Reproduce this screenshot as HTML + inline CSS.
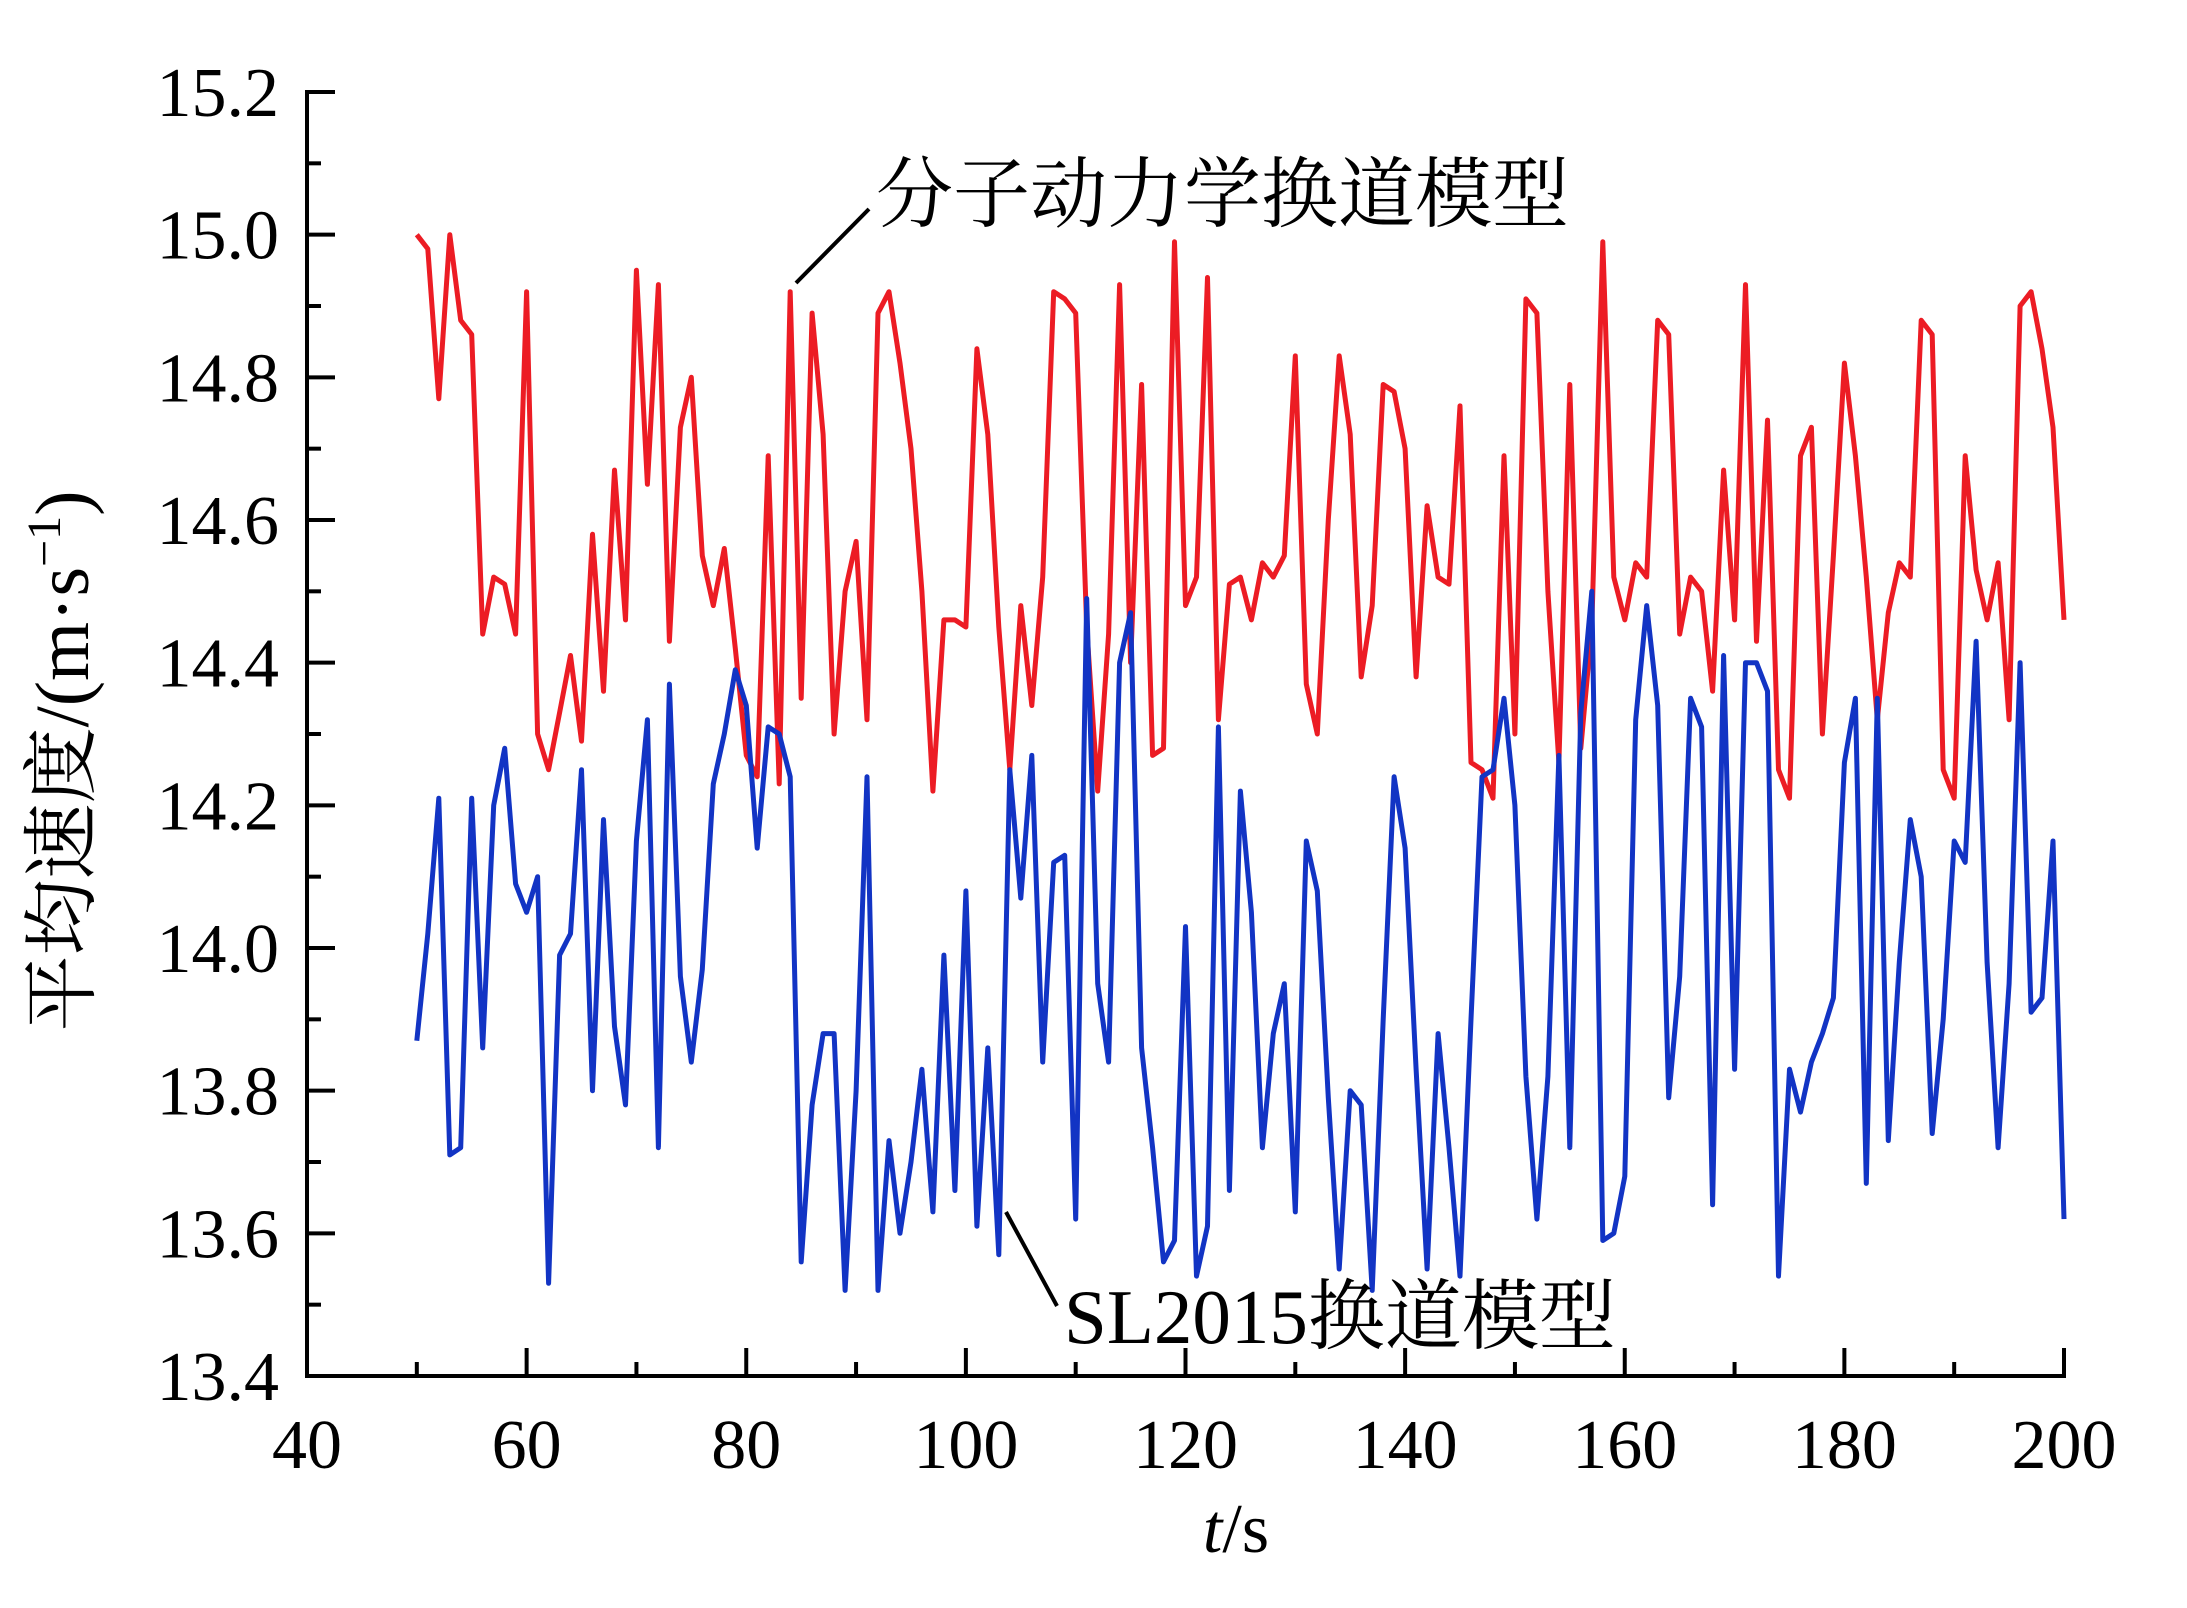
<!DOCTYPE html>
<html><head><meta charset="utf-8"><style>
html,body{margin:0;padding:0;background:#fff}
svg{display:block}
text{font-family:"Liberation Serif","Noto Serif CJK SC",serif;fill:#000}
</style></head><body>
<svg id="chart" width="2187" height="1608" viewBox="0 0 2187 1608" xmlns="http://www.w3.org/2000/svg">
<g id="grid-layer"></g>
<g id="series-layer"></g>
<text transform="translate(88,761) rotate(-90)" text-anchor="middle" font-size="76" font-family="'Liberation Serif','Noto Sans CJK SC',serif">平均速度/(m·s<tspan dy="-28" font-size="48">−1</tspan><tspan dy="28">)</tspan></text>
<text x="1236" y="1552" text-anchor="middle" font-size="70"><tspan font-style="italic">t</tspan>/s</text>
<line x1="796" y1="283" x2="869" y2="209" stroke="#000" stroke-width="4"/>
<text x="876" y="221" font-size="77" font-family="'Noto Serif CJK SC',serif">分子动力学换道模型</text>
<line x1="1006" y1="1212" x2="1057" y2="1306" stroke="#000" stroke-width="4"/>
<text x="1064" y="1343" font-size="77" font-family="'Liberation Serif','Noto Serif CJK SC',serif">SL2015换道模型</text>
</svg>
<script>
const tStart = 50;
const redValues = [15.0,14.98,14.77,15.0,14.88,14.86,14.44,14.52,14.51,14.44,14.92,14.3,14.25,14.33,14.41,14.29,14.58,14.36,14.67,14.46,14.95,14.65,14.93,14.43,14.73,14.8,14.55,14.48,14.56,14.42,14.27,14.24,14.69,14.23,14.92,14.35,14.89,14.72,14.3,14.5,14.57,14.32,14.89,14.92,14.82,14.7,14.5,14.22,14.46,14.46,14.45,14.84,14.72,14.45,14.25,14.48,14.34,14.52,14.92,14.91,14.89,14.45,14.22,14.44,14.93,14.4,14.79,14.27,14.28,14.99,14.48,14.52,14.94,14.32,14.51,14.52,14.46,14.54,14.52,14.55,14.83,14.37,14.3,14.6,14.83,14.72,14.38,14.48,14.79,14.78,14.7,14.38,14.62,14.52,14.51,14.76,14.26,14.25,14.21,14.69,14.3,14.91,14.89,14.5,14.26,14.79,14.28,14.45,14.99,14.52,14.46,14.54,14.52,14.88,14.86,14.44,14.52,14.5,14.36,14.67,14.46,14.93,14.43,14.74,14.25,14.21,14.69,14.73,14.3,14.55,14.82,14.69,14.52,14.32,14.47,14.54,14.52,14.88,14.86,14.25,14.21,14.69,14.53,14.46,14.54,14.32,14.9,14.92,14.84,14.73,14.46];
const blueValues = [13.87,14.02,14.21,13.71,13.72,14.21,13.86,14.2,14.28,14.09,14.05,14.1,13.53,13.99,14.02,14.25,13.8,14.18,13.89,13.78,14.15,14.32,13.72,14.37,13.96,13.84,13.97,14.23,14.3,14.39,14.34,14.14,14.31,14.3,14.24,13.56,13.78,13.88,13.88,13.52,13.8,14.24,13.52,13.73,13.6,13.7,13.83,13.63,13.99,13.66,14.08,13.61,13.86,13.57,14.25,14.07,14.27,13.84,14.12,14.13,13.62,14.49,13.95,13.84,14.4,14.47,13.86,13.72,13.56,13.59,14.03,13.54,13.61,14.31,13.66,14.22,14.05,13.72,13.88,13.95,13.63,14.15,14.08,13.79,13.55,13.8,13.78,13.52,13.9,14.24,14.14,13.83,13.55,13.88,13.72,13.54,13.9,14.24,14.25,14.35,14.2,13.82,13.62,13.82,14.27,13.72,14.33,14.5,13.59,13.6,13.68,14.32,14.48,14.34,13.79,13.96,14.35,14.31,13.64,14.41,13.83,14.4,14.4,14.36,13.54,13.83,13.77,13.84,13.88,13.93,14.26,14.35,13.67,14.35,13.73,13.98,14.18,14.1,13.74,13.9,14.15,14.12,14.43,13.98,13.72,13.95,14.4,13.91,13.93,14.15,13.62];
const xTickLabels = ["40","60","80","100","120","140","160","180","200"];
const yTickLabels = ["13.4","13.6","13.8","14.0","14.2","14.4","14.6","14.8","15.0","15.2"];

const NS = "http://www.w3.org/2000/svg";
const L = 307, R = 2064, T = 92, B = 1376;
const xMin = 40, xMax = 200, yMin = 13.4, yMax = 15.2;
function xs(v){ return L + (v - xMin) / (xMax - xMin) * (R - L); }
function ys(v){ return B - (v - yMin) / (yMax - yMin) * (B - T); }
function mk(tag, attrs, parent){ const e = document.createElementNS(NS, tag); for (const k in attrs) e.setAttribute(k, attrs[k]); parent.appendChild(e); return e; }

const g = document.getElementById('grid-layer');
let e = mk('line', {x1:L, y1:T-2, x2:L, y2:B+2, stroke:'#000','stroke-width':4}, g);


e = mk('line', {x1:L-2, y1:B, x2:R+2, y2:B, stroke:'#000','stroke-width':4}, g);



yTickLabels.forEach((lab, i) => {
  const v = parseFloat(lab), y = ys(v);
  const t = mk('line', {x1:L, y1:y, x2:L+28, y2:y, stroke:'#000','stroke-width':4}, g);
  
  
  if (i < yTickLabels.length - 1) {
    const ym = ys(v + 0.1);
    const m = mk('line', {x1:L, y1:ym, x2:L+14, y2:ym, stroke:'#000','stroke-width':4}, g);
    
    
  }
  const tx = mk('text', {x:279, y:y+24, 'text-anchor':'end','font-size':70}, g);
  tx.textContent = lab;
  
  
});
xTickLabels.forEach((lab, i) => {
  const v = parseFloat(lab), x = xs(v);
  const t = mk('line', {x1:x, y1:B, x2:x, y2:B-28, stroke:'#000','stroke-width':4}, g);
  
  
  if (i < xTickLabels.length - 1) {
    const xm = xs(v + 10);
    const m = mk('line', {x1:xm, y1:B, x2:xm, y2:B-14, stroke:'#000','stroke-width':4}, g);
    
    
  }
  const tx = mk('text', {x:x, y:1468, 'text-anchor':'middle','font-size':70}, g);
  tx.textContent = lab;
  
  
});

const s = document.getElementById('series-layer');
function pts(arr){ return arr.map((v, i) => xs(tStart + i).toFixed(1) + ',' + ys(v).toFixed(1)).join(' '); }
const red = mk('polyline', {points:pts(redValues), fill:'none', stroke:'#ec1c24','stroke-width':5,'stroke-linejoin':'round'}, s);


const blue = mk('polyline', {points:pts(blueValues), fill:'none', stroke:'#1234c4','stroke-width':5,'stroke-linejoin':'round'}, s);


</script>
</body></html>
